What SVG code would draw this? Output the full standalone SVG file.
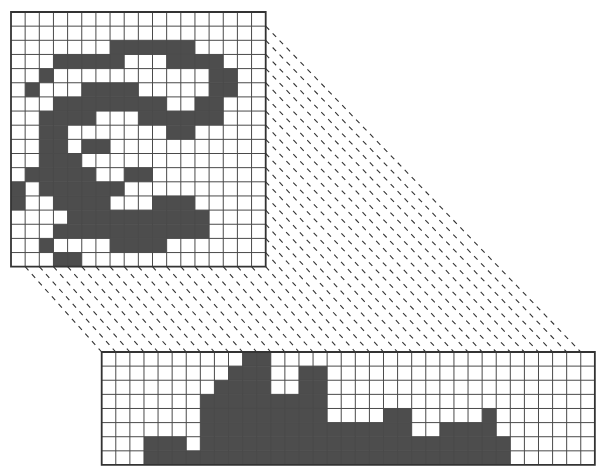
<svg xmlns="http://www.w3.org/2000/svg" width="600" height="475" viewBox="0 0 600 475">
<style>
.cell{fill:#4d4d4d}
.grid{fill:none;stroke:#4a4a4a;stroke-width:1;vector-effect:non-scaling-stroke}
.border{fill:none;stroke:#333;stroke-width:1.8;vector-effect:non-scaling-stroke}
.proj{stroke:#333;stroke-width:1.1;stroke-dasharray:5 5;fill:none}
</style>
<rect width="600" height="475" fill="#fff"/>
<g id="connectors">
<path class="proj" d="M25.15 266.7L101.7 352M39.3 266.7L115.79 352M53.45 266.7L129.88 352M67.6 266.7L143.97 352M81.75 266.7L158.06 352M95.9 266.7L172.15 352M110.05 266.7L186.24 352M124.2 266.7L200.33 352M138.35 266.7L214.42 352M152.5 266.7L228.51 352M166.65 266.7L242.6 352M180.8 266.7L256.69 352M194.95 266.7L270.78 352M209.1 266.7L284.87 352M223.25 266.7L298.96 352M237.4 266.7L313.05 352M251.55 266.7L327.14 352M265.7 266.7L341.23 352M265.7 252.55L355.32 352M265.7 238.4L369.41 352M265.7 224.25L383.5 352M265.7 210.1L397.59 352M265.7 195.95L411.68 352M265.7 181.8L425.77 352M265.7 167.65L439.86 352M265.7 153.5L453.95 352M265.7 139.35L468.04 352M265.7 125.2L482.13 352M265.7 111.05L496.22 352M265.7 96.9L510.31 352M265.7 82.75L524.4 352M265.7 68.6L538.49 352M265.7 54.45L552.58 352M265.7 40.3L566.67 352M265.7 26.15L580.76 352"/>
</g>
<g id="source-grid" transform="translate(11,12) scale(14.15)">
<rect width="18" height="18" fill="#fff"/>
<g class="cell">
<rect x="7" y="2" width="6" height="1"/>
<rect x="3" y="3" width="5" height="1"/><rect x="11" y="3" width="4" height="1"/>
<rect x="2" y="4" width="1" height="1"/><rect x="14" y="4" width="2" height="1"/>
<rect x="1" y="5" width="1" height="1"/><rect x="5" y="5" width="4" height="1"/><rect x="14" y="5" width="2" height="1"/>
<rect x="3" y="6" width="8" height="1"/><rect x="13" y="6" width="2" height="1"/>
<rect x="2" y="7" width="4" height="1"/><rect x="9" y="7" width="6" height="1"/>
<rect x="2" y="8" width="2" height="1"/><rect x="11" y="8" width="2" height="1"/>
<rect x="2" y="9" width="2" height="1"/><rect x="5" y="9" width="2" height="1"/>
<rect x="2" y="10" width="3" height="1"/>
<rect x="1" y="11" width="5" height="1"/><rect x="8" y="11" width="2" height="1"/>
<rect x="0" y="12" width="1" height="1"/><rect x="2" y="12" width="6" height="1"/>
<rect x="0" y="13" width="1" height="1"/><rect x="3" y="13" width="4" height="1"/><rect x="10" y="13" width="3" height="1"/>
<rect x="4" y="14" width="10" height="1"/>
<rect x="3" y="15" width="11" height="1"/>
<rect x="2" y="16" width="1" height="1"/><rect x="7" y="16" width="4" height="1"/>
<rect x="3" y="17" width="2" height="1"/>
</g>
<path class="grid" d="M1 0V18M2 0V18M3 0V18M4 0V18M5 0V18M6 0V18M7 0V18M8 0V18M9 0V18M10 0V18M11 0V18M12 0V18M13 0V18M14 0V18M15 0V18M16 0V18M17 0V18M0 1H18M0 2H18M0 3H18M0 4H18M0 5H18M0 6H18M0 7H18M0 8H18M0 9H18M0 10H18M0 11H18M0 12H18M0 13H18M0 14H18M0 15H18M0 16H18M0 17H18"/>
<rect class="border" width="18" height="18"/>
</g>
<g id="target-grid" transform="translate(101.7,352) scale(14.09,14.12)">
<rect width="35" height="8" fill="#fff"/>
<g class="cell">
<rect x="10" y="0" width="2" height="1"/>
<rect x="9" y="1" width="3" height="1"/><rect x="14" y="1" width="2" height="1"/>
<rect x="8" y="2" width="4" height="1"/><rect x="14" y="2" width="2" height="1"/>
<rect x="7" y="3" width="9" height="1"/>
<rect x="7" y="4" width="9" height="1"/><rect x="20" y="4" width="2" height="1"/><rect x="27" y="4" width="1" height="1"/>
<rect x="7" y="5" width="15" height="1"/><rect x="24" y="5" width="4" height="1"/>
<rect x="3" y="6" width="3" height="1"/><rect x="7" y="6" width="22" height="1"/>
<rect x="3" y="7" width="26" height="1"/>
</g>
<path class="grid" d="M1 0V8M2 0V8M3 0V8M4 0V8M5 0V8M6 0V8M7 0V8M8 0V8M9 0V8M10 0V8M11 0V8M12 0V8M13 0V8M14 0V8M15 0V8M16 0V8M17 0V8M18 0V8M19 0V8M20 0V8M21 0V8M22 0V8M23 0V8M24 0V8M25 0V8M26 0V8M27 0V8M28 0V8M29 0V8M30 0V8M31 0V8M32 0V8M33 0V8M34 0V8M0 1H35M0 2H35M0 3H35M0 4H35M0 5H35M0 6H35M0 7H35"/>
<rect class="border" width="35" height="8"/>
</g>
</svg>
